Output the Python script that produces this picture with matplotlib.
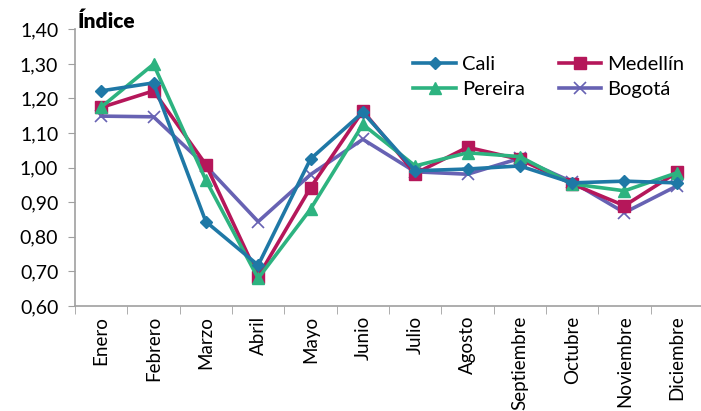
import matplotlib
matplotlib.use("Agg")
import matplotlib.pyplot as plt
import numpy as np

meses = ["Enero", "Febrero", "Marzo", "Abril", "Mayo", "Junio", "Julio",
         "Agosto", "Septiembre", "Octubre", "Noviembre", "Diciembre"]
cali = [1.222, 1.245, 0.844, 0.718, 1.025, 1.160, 0.991, 0.996, 1.005, 0.956, 0.961, 0.956]
medellin = [1.174, 1.222, 1.009, 0.685, 0.942, 1.164, 0.983, 1.059, 1.024, 0.953, 0.890, 0.986]
pereira = [1.175, 1.299, 0.964, 0.680, 0.880, 1.125, 1.005, 1.043, 1.032, 0.953, 0.933, 0.985]
bogota = [1.149, 1.147, 1.005, 0.844, 0.980, 1.082, 0.988, 0.981, 1.027, 0.959, 0.870, 0.947]
yticks = [0.60, 0.70, 0.80, 0.90, 1.00, 1.10, 1.20, 1.30, 1.40]

plt.rcParams['font.family'] = ['Lato', 'DejaVu Sans']

fig = plt.figure(figsize=(7.01, 4.11), dpi=100)
ax = fig.add_axes([75/701, 105/411, 628/701, 276.7/411])

x = np.arange(len(meses))
l1, = ax.plot(x, cali, color="#1f78a6", lw=2.6, marker="D", ms=6.5, label="Cali", zorder=4)
l2, = ax.plot(x, medellin, color="#b5175a", lw=2.6, marker="s", ms=8, label="Medellín", zorder=3)
l3, = ax.plot(x, pereira, color="#2db380", lw=2.6, marker="^", ms=8.5, label="Pereira", zorder=3)
l4, = ax.plot(x, bogota, color="#6762b3", lw=2.6, marker="x", ms=8.5, mew=1.2, label="Bogotá", zorder=2)

ax.set_xlim(-0.5, len(meses) - 0.5)
ax.set_ylim(0.6, 1.4)
ax.set_yticks(yticks)
ax.set_yticklabels([f"{v:.2f}".replace(".", ",") for v in yticks], fontsize=14)
ax.set_xticks(x)
ax.set_xticklabels(meses, rotation=90, fontsize=13.5)
ax.set_xticks(np.arange(-0.5, len(meses), 1.0), minor=True)
ax.tick_params(axis="x", which="major", length=0, pad=7)
ax.tick_params(axis="x", which="minor", length=6, color="#a0a0a0", direction="out")
ax.tick_params(axis="y", length=5, color="#a0a0a0", pad=7)

for s in ["top", "right"]:
    ax.spines[s].set_visible(False)
for s in ["left", "bottom"]:
    ax.spines[s].set_color("#a0a0a0")
    ax.spines[s].set_linewidth(1.2)

ax.text(0.004, 0.995, "Índice", transform=ax.transAxes, fontsize=15, fontweight="heavy",
        ha="left", va="bottom")

ax.legend([l1, l3, l2, l4], ["Cali", "Pereira", "Medellín", "Bogotá"],
          ncol=2, loc="upper left", bbox_to_anchor=(0.51, 0.97), frameon=False,
          fontsize=14.5, handlelength=2.1, columnspacing=1.7, handletextpad=0.3,
          labelspacing=0.4)

fig.savefig("out.png", dpi=100)
